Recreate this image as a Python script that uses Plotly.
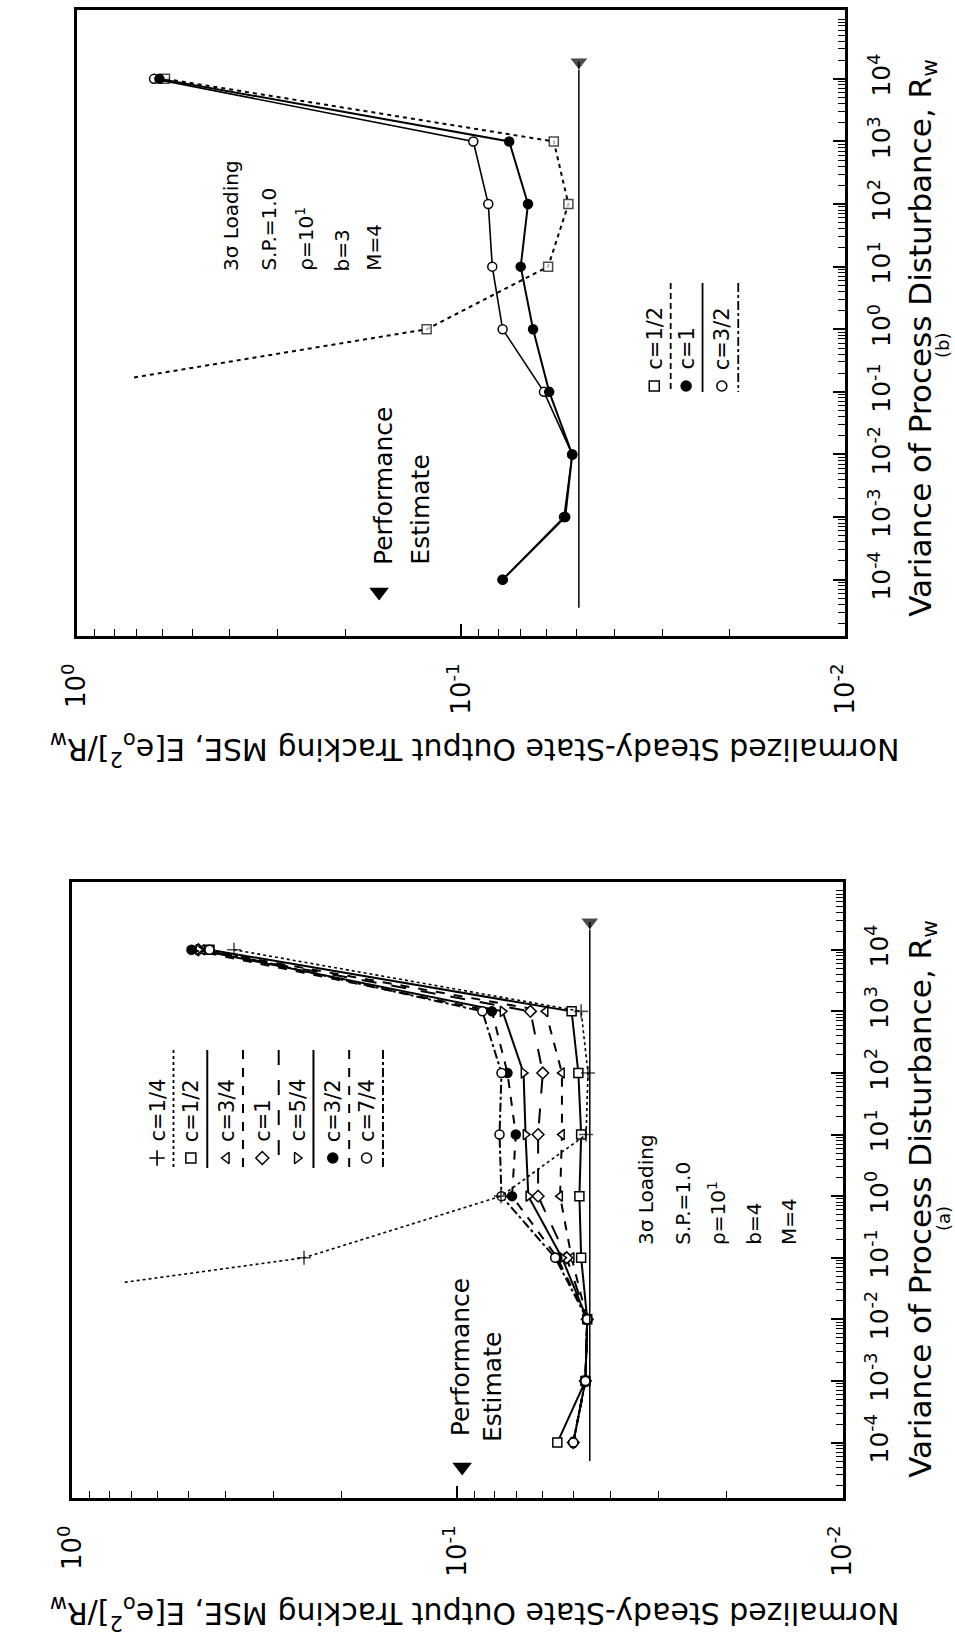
import plotly.graph_objects as go

W, H = 955, 1640
FONT = "DejaVu Sans"

# ---------------- data ----------------
RW_DECADES = [1e-4, 1e-3, 1e-2, 1e-1, 1e0, 1e1, 1e2, 1e3, 1e4]

# Panel (a): b=4
A_C14_RW = [0.04, 1e-1, 1e0, 1e1, 1e2, 1e3, 1e4]
A_C14 = [0.73, 0.25, 0.077, 0.0463, 0.0458, 0.0477, 0.38]
A_C12 = [0.055, 0.0465, 0.046, 0.0477, 0.0482, 0.0477, 0.0485, 0.0505, 0.44]
A_C34 = [0.050, 0.0465, 0.046, 0.0505, 0.0541, 0.0535, 0.0535, 0.059, 0.46]
A_C1 = [0.050, 0.0465, 0.046, 0.052, 0.0617, 0.0617, 0.060, 0.0646, 0.47]
A_C54 = [0.050, 0.0465, 0.046, 0.0535, 0.0654, 0.0665, 0.0673, 0.0763, 0.47]
A_C32 = [0.050, 0.0465, 0.046, 0.055, 0.0721, 0.0705, 0.0741, 0.0813, 0.49]
A_C74 = [0.050, 0.0465, 0.046, 0.0557, 0.0768, 0.0777, 0.0768, 0.0861, 0.44]
A_PERF = 0.0453
A_PERF_RW = [10 ** -4.3, 10 ** 4.45]

# Panel (b): b=3
B_C12_RW = [0.17, 1e0, 1e1, 1e2, 1e3, 1e4]
B_C12 = [0.71, 0.123, 0.0594, 0.0526, 0.0574, 0.59]
B_C1 = [0.078, 0.0536, 0.0514, 0.059, 0.065, 0.070, 0.067, 0.075, 0.61]
B_C32 = [0.078, 0.054, 0.0514, 0.0609, 0.078, 0.083, 0.085, 0.093, 0.63]
B_PERF = 0.0494
B_PERF_RW = [10 ** -4.45, 10 ** 4.27]

MSE_TICKS = [1, 0.1, 0.01]
MSE_TICKTEXT = ["10<sup>0</sup>", "10<sup>-1</sup>", "10<sup>-2</sup>"]
RW_TICKTEXT = ["10<sup>%d</sup>" % e for e in range(-4, 5)]

A_LABELS = ["c=1/4", "c=1/2", "c=3/4", "c=1", "c=5/4", "c=3/2", "c=7/4"]
B_LABELS = ["c=1/2", "c=1", "c=3/2"]
A_INFO = ["3σ Loading", "S.P.=1.0", "ρ=10<sup>1</sup>", "b=4", "M=4"]
B_INFO = ["3σ Loading", "S.P.=1.0", "ρ=10<sup>1</sup>", "b=3", "M=4"]

# ---------------- styles ----------------
STY = {
    "c=1/4": ("cross-thin", False, "dot"),
    "c=1/2": ("square", False, "solid"),
    "c=3/4": ("triangle-left", False, "dash"),
    "c=1": ("diamond", False, "longdash"),
    "c=5/4": ("triangle-right", False, "solid"),
    "c=3/2": ("circle", True, "dash"),
    "c=7/4": ("circle", False, "dashdot"),
}
STY_B = {
    "c=1/2": ("square", False, "4px,4px", "6px,4px"),
    "c=1": ("circle", True, "solid", "solid"),
    "c=3/2": ("circle", False, "solid", "dashdot"),
}


def marker(symbol, filled, size=9):
    if symbol == "cross-thin":
        return dict(symbol=symbol, size=size + 1, color="black",
                    line=dict(color="black", width=1.6))
    return dict(symbol=symbol, size=size,
                color="black" if filled else "white",
                line=dict(color="black", width=1.5))


fig = go.Figure()


def add_series(rw, mse, symbol, filled, dash, xa, ya, first_no_marker=False, width=2):
    m = marker(symbol, filled)
    if first_no_marker:
        m["size"] = [0] + [m["size"]] * (len(rw) - 1)
    fig.add_trace(go.Scatter(x=mse, y=rw, mode="lines+markers", xaxis=xa, yaxis=ya,
                             line=dict(color="black", width=width, dash=dash),
                             marker=m, showlegend=False, hoverinfo="skip"))


# Panel (b) -> x / y (top)
add_series(B_C12_RW, B_C12, *STY_B["c=1/2"][:3], "x", "y", first_no_marker=True)
add_series(RW_DECADES, B_C32, *STY_B["c=3/2"][:3], "x", "y", width=1.6)
add_series(RW_DECADES, B_C1, *STY_B["c=1"][:3], "x", "y")

# Panel (a) -> x2 / y2 (bottom)
order = ["c=1/2", "c=3/4", "c=1", "c=5/4", "c=3/2", "c=7/4"]
series_a = {"c=1/2": A_C12, "c=3/4": A_C34, "c=1": A_C1, "c=5/4": A_C54,
            "c=3/2": A_C32, "c=7/4": A_C74}
for lab in order:
    s, f, d = STY[lab]
    add_series(RW_DECADES, series_a[lab], s, f, d, "x2", "y2")
add_series(A_C14_RW, A_C14, *STY["c=1/4"], "x2", "y2", first_no_marker=True, width=1.6)

# Performance estimate lines
for perf, span, xa, ya in [(B_PERF, B_PERF_RW, "x", "y"), (A_PERF, A_PERF_RW, "x2", "y2")]:
    fig.add_trace(go.Scatter(x=[perf, perf], y=span, mode="lines+markers", xaxis=xa, yaxis=ya,
                             line=dict(color="black", width=1.5),
                             marker=dict(symbol="triangle-down", size=[0, 16], color="black"),
                             showlegend=False, hoverinfo="skip"))


# ---------------- axes ----------------
def minor_vals(lo, hi):
    out = []
    for d in range(lo, hi):
        for k in range(2, 10):
            out.append(k * 10 ** d)
    return out


def xaxis_cfg(domain, anchor):
    return dict(type="log", range=[0, -2], domain=domain, anchor=anchor, side="bottom",
                tickmode="array", tickvals=MSE_TICKS, ticktext=MSE_TICKTEXT,
                tickangle=-90, ticks="inside", ticklen=12, tickwidth=1.5, tickcolor="black",
                minor=dict(tickmode="array", tickvals=minor_vals(-2, 0), ticks="inside",
                           ticklen=7, tickwidth=1.2, tickcolor="black", showgrid=False),
                showline=True, mirror=True, linewidth=3, linecolor="black",
                showgrid=False, zeroline=False, ticklabelstandoff=14,
                tickfont=dict(family=FONT, size=26, color="black"))


def yaxis_cfg(domain, anchor):
    return dict(type="log", range=[-4.9, 5.1], domain=domain, side="right", anchor=anchor,
                tickmode="array", tickvals=RW_DECADES, ticktext=RW_TICKTEXT,
                tickangle=-90, ticks="inside", ticklen=12, tickwidth=1.5, tickcolor="black",
                minor=dict(tickmode="array", tickvals=minor_vals(-5, 5), ticks="inside",
                           ticklen=7, tickwidth=1.2, tickcolor="black", showgrid=False),
                showline=True, mirror=True, linewidth=3, linecolor="black",
                showgrid=False, zeroline=False, ticklabelstandoff=12,
                tickfont=dict(family=FONT, size=25, color="black"))


def yd(top, bottom):
    return [1 - bottom / H, 1 - top / H]


fig.update_layout(
    xaxis=xaxis_cfg([60 / W, 856 / W], "y"),
    yaxis=yaxis_cfg(yd(10, 636), "x"),
    xaxis2=xaxis_cfg([55 / W, 853 / W], "y2"),
    yaxis2=yaxis_cfg(yd(882, 1498), "x2"),
    # pixel overlay used only for keys and free texts
    xaxis3=dict(domain=[0, 1], range=[0, W], visible=False, fixedrange=True, anchor="y3"),
    yaxis3=dict(domain=[0, 1], range=[H, 0], visible=False, fixedrange=True, anchor="x3"),
)

# ---------------- keys (manual legends) ----------------
LEG_A_X = [143, 178, 215, 252, 288, 325, 360]
for lab, lx in zip(A_LABELS, LEG_A_X):
    s, f, d = STY[lab]
    fig.add_trace(go.Scatter(x=[lx], y=[1158], xaxis="x3", yaxis="y3", mode="markers",
                             marker=marker(s, f, 10), showlegend=False, hoverinfo="skip"))
    fig.add_annotation(x=lx, y=1144, xref="x3", yref="y3", text=lab, textangle=-90,
                       showarrow=False, xanchor="center", yanchor="bottom",
                       font=dict(family=FONT, size=21, color="black"))
    fig.add_shape(type="line", xref="x3", yref="y3", x0=lx + 17, x1=lx + 17, y0=1050, y1=1168,
                  line=dict(color="black", width=2 if d != "dot" else 1.8, dash=d))

LEG_B_X = [658, 691, 728]
for lab, lx in zip(B_LABELS, LEG_B_X):
    s, f, _, dl = STY_B[lab]
    fig.add_trace(go.Scatter(x=[lx], y=[386], xaxis="x3", yaxis="y3", mode="markers",
                             marker=marker(s, f, 10), showlegend=False, hoverinfo="skip"))
    fig.add_annotation(x=lx, y=372, xref="x3", yref="y3", text=lab, textangle=-90,
                       showarrow=False, xanchor="center", yanchor="bottom",
                       font=dict(family=FONT, size=21, color="black"))
    fig.add_shape(type="line", xref="x3", yref="y3", x0=lx + 17, x1=lx + 17, y0=283, y1=392,
                  line=dict(color="black", width=1.8, dash=dl))

# info blocks
for info, xs, yb in [(B_INFO, [219, 258, 296, 335, 367], 273),
                     (A_INFO, [649, 687, 723, 761, 797], 1247)]:
    for t, tx in zip(info, xs):
        fig.add_annotation(x=tx, y=yb, xref="x3", yref="y3", text=t, textangle=-90,
                           showarrow=False, xanchor="center", yanchor="bottom",
                           font=dict(family=FONT, size=20, color="black"))

# performance estimate keys
for (tx, ty), (p1x, p1y), (p2x, p2y) in [((373, 592), (377, 567), (415, 567)),
                                          ((459, 1467), (457, 1438), (490, 1444))]:
    fig.add_trace(go.Scatter(x=[tx], y=[ty], xaxis="x3", yaxis="y3", mode="markers",
                             marker=dict(symbol="triangle-down", size=17, color="black"),
                             showlegend=False, hoverinfo="skip"))
    fig.add_annotation(x=p1x, y=p1y, xref="x3", yref="y3", text="Performance", textangle=-90,
                       showarrow=False, xanchor="center", yanchor="bottom",
                       font=dict(family=FONT, size=25, color="black"))
    fig.add_annotation(x=p2x, y=p2y, xref="x3", yref="y3", text="Estimate", textangle=-90,
                       showarrow=False, xanchor="center", yanchor="bottom",
                       font=dict(family=FONT, size=25, color="black"))

# axis titles
XT = "Variance of Process Disturbance, R<sub>w</sub>"
YT = "Normalized Steady-State Output Tracking MSE, E[e<sub>o</sub><sup>2</sup>]/R<sub>w</sub>"
for ty in [338, 1199]:
    fig.add_annotation(x=935, y=ty, xref="x3", yref="y3", text=XT, textangle=-90,
                       showarrow=False, xanchor="center", yanchor="middle",
                       font=dict(family=FONT, size=31, color="black"))
for ty in [750, 1614]:
    fig.add_annotation(x=472, y=ty, xref="x3", yref="y3", text=YT, textangle=180,
                       showarrow=False, xanchor="center", yanchor="middle",
                       font=dict(family=FONT, size=30, color="black"))
for lab, ty in [("(b)", 345), ("(a)", 1218)]:
    fig.add_annotation(x=957 / W, y=1 - ty / H, xref="paper", yref="paper", text=lab,
                       textangle=-90, showarrow=False, xanchor="center", yanchor="middle",
                       font=dict(family=FONT, size=18, color="black"))

fig.update_layout(width=W, height=H, margin=dict(l=0, r=0, t=0, b=0),
                  paper_bgcolor="white", plot_bgcolor="rgba(0,0,0,0)",
                  showlegend=False, font=dict(family=FONT, color="black"))

fig.write_html("out.html")
